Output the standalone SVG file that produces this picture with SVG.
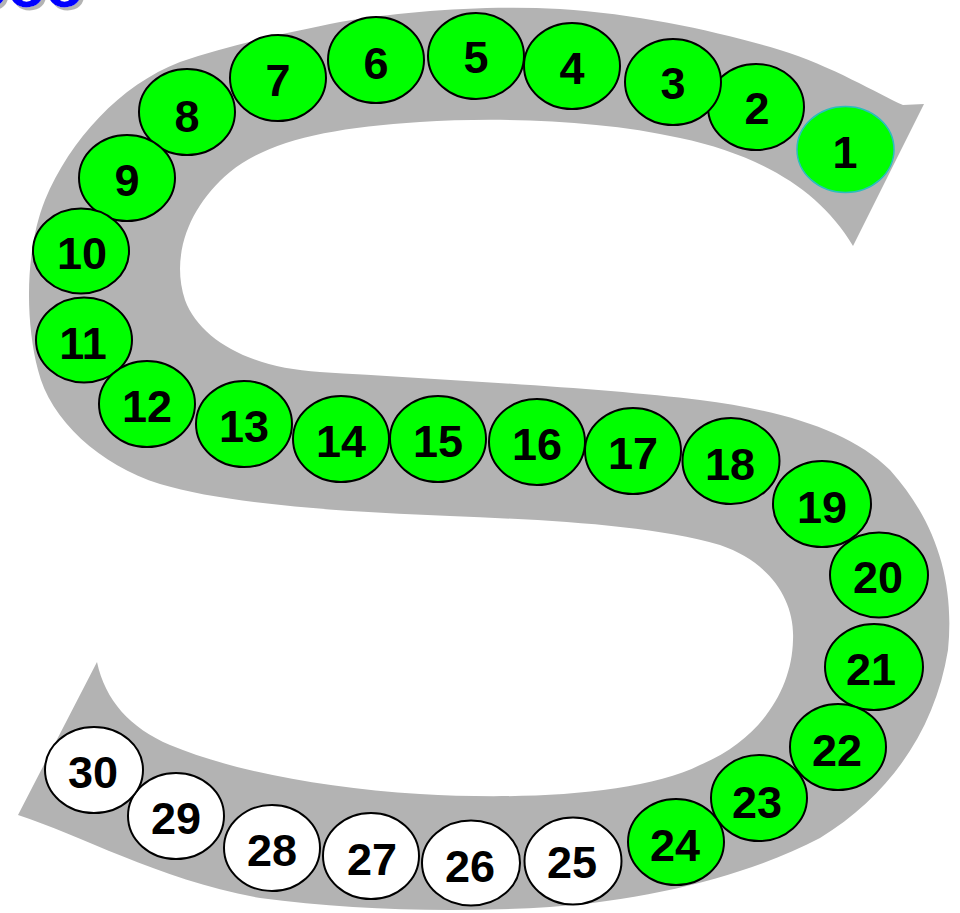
<svg xmlns="http://www.w3.org/2000/svg" width="960" height="913" viewBox="0 0 960 913">
<style>
.n ellipse{stroke:#000;stroke-width:2}
.g ellipse{fill:#00ff00}
.w ellipse{fill:#ffffff}
.n text{font-family:"Liberation Sans",Arial,sans-serif;font-weight:bold;font-size:45px;text-anchor:middle;fill:#000}
.title{font-family:"Liberation Sans",Arial,sans-serif;font-weight:bold;font-size:62px}
</style>
<defs>
<filter id="shadow" x="-10%" y="-10%" width="130%" height="140%">
<feOffset in="SourceAlpha" dx="3" dy="3" result="o"/>
<feFlood flood-color="#b3b3b3"/>
<feComposite in2="o" operator="in" result="s"/>
<feMerge><feMergeNode in="s"/><feMergeNode in="SourceGraphic"/></feMerge>
</filter>
</defs>
<rect width="960" height="913" fill="#fff"/>
<text class="title" x="-30" y="7" fill="#0000ff" filter="url(#shadow)">ooo</text>
<g id="track">
<path fill="#b3b3b3" d="M924,104 L903,105 C880,95 830,65 780,50 C720,32 640,14 560,9 C480,5 400,12 340,22 C290,32 230,45 180,62 C120,85 70,140 45,200 C25,250 25,320 38,370 C50,420 100,465 160,484 C230,505 350,512 450,516 C550,520 650,525 720,545 C770,562 795,600 793,640 C792,690 760,740 700,765 C640,795 520,800 420,794 C320,788 230,770 170,745 C130,728 105,700 97,662 L18,815 C80,835 160,880 260,898 C350,910 450,913 550,907 C650,900 750,875 820,838 C890,795 935,730 948,650 C955,580 935,520 890,470 C850,430 780,410 700,400 C600,388 450,380 320,372 C250,368 200,340 185,300 C170,255 190,205 230,172 C270,140 330,128 420,122 C500,117 600,120 680,138 C760,155 820,190 853,246 Z"/>
</g>
<g id="connectors"></g>
<g id="n1" class="n g"><ellipse cx="845.5" cy="149.5" rx="48.5" ry="43" style="stroke:#2bbdbd;stroke-width:1.5"/><text x="845" y="168">1</text></g>
<g id="n2" class="n g"><ellipse cx="756" cy="107" rx="48" ry="43"/><text x="757" y="124">2</text></g>
<g id="n3" class="n g"><ellipse cx="673" cy="82" rx="48" ry="43"/><text x="673" y="99">3</text></g>
<g id="n4" class="n g"><ellipse cx="572" cy="66" rx="48" ry="43"/><text x="572" y="84">4</text></g>
<g id="n5" class="n g"><ellipse cx="476" cy="56" rx="48" ry="43"/><text x="476" y="73">5</text></g>
<g id="n6" class="n g"><ellipse cx="376" cy="60" rx="48" ry="43"/><text x="376" y="79">6</text></g>
<g id="n7" class="n g"><ellipse cx="278" cy="78" rx="48" ry="43"/><text x="278" y="96">7</text></g>
<g id="n8" class="n g"><ellipse cx="187" cy="112" rx="48" ry="43"/><text x="187" y="132">8</text></g>
<g id="n9" class="n g"><ellipse cx="127" cy="178" rx="48" ry="43"/><text x="127" y="196">9</text></g>
<g id="n10" class="n g"><ellipse cx="81" cy="251" rx="48" ry="42.5"/><text x="82" y="269">10</text></g>
<g id="n11" class="n g"><ellipse cx="84" cy="340" rx="48" ry="42.5"/><text x="83" y="359">11</text></g>
<g id="n12" class="n g"><ellipse cx="147" cy="404" rx="48" ry="43"/><text x="147" y="422">12</text></g>
<g id="n13" class="n g"><ellipse cx="244" cy="424" rx="48" ry="43"/><text x="244" y="442">13</text></g>
<g id="n14" class="n g"><ellipse cx="341" cy="439" rx="48" ry="43"/><text x="341" y="457">14</text></g>
<g id="n15" class="n g"><ellipse cx="438" cy="439" rx="48" ry="43"/><text x="438" y="457">15</text></g>
<g id="n16" class="n g"><ellipse cx="537" cy="442" rx="48" ry="43"/><text x="537" y="460">16</text></g>
<g id="n17" class="n g"><ellipse cx="633" cy="451" rx="48" ry="43"/><text x="633" y="469">17</text></g>
<g id="n18" class="n g"><ellipse cx="731" cy="461" rx="48.5" ry="43"/><text x="730" y="480">18</text></g>
<g id="n19" class="n g"><ellipse cx="822" cy="504" rx="49" ry="43"/><text x="822" y="523">19</text></g>
<g id="n20" class="n g"><ellipse cx="879" cy="575" rx="49" ry="42.5"/><text x="878" y="593">20</text></g>
<g id="n21" class="n g"><ellipse cx="874" cy="667" rx="49" ry="43"/><text x="871" y="685">21</text></g>
<g id="n22" class="n g"><ellipse cx="838" cy="747" rx="48" ry="43"/><text x="837" y="766">22</text></g>
<g id="n23" class="n g"><ellipse cx="759" cy="798" rx="48" ry="43"/><text x="757" y="818">23</text></g>
<g id="n24" class="n g"><ellipse cx="676" cy="842" rx="48" ry="43"/><text x="675" y="861">24</text></g>
<g id="n25" class="n w"><ellipse cx="573" cy="861" rx="48.5" ry="43.5"/><text x="572" y="878">25</text></g>
<g id="n26" class="n w"><ellipse cx="471" cy="863" rx="49" ry="42.5"/><text x="470" y="882">26</text></g>
<g id="n27" class="n w"><ellipse cx="371" cy="856" rx="48" ry="43"/><text x="372" y="875">27</text></g>
<g id="n28" class="n w"><ellipse cx="272" cy="848" rx="48" ry="43"/><text x="272" y="866">28</text></g>
<g id="n29" class="n w"><ellipse cx="176" cy="816" rx="48" ry="43"/><text x="176" y="834">29</text></g>
<g id="n30" class="n w"><ellipse cx="94" cy="770" rx="49" ry="43"/><text x="93" y="788">30</text></g>
</svg>
